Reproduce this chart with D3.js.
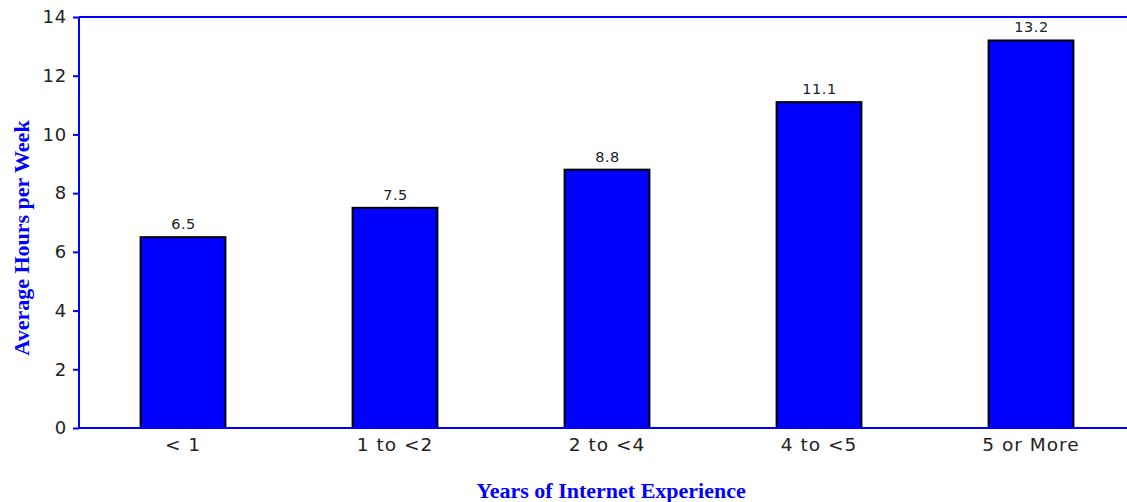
<!DOCTYPE html>
<html><head><meta charset="utf-8">
<script src="https://cdn.jsdelivr.net/npm/d3@7"></script>
<style>body{margin:0;background:#fff}</style>
</head><body>
<svg id="c" width="1127" height="502"></svg>
<script>
const categories = ["< 1", "1 to <2", "2 to <4", "4 to <5", "5 or More"];
const values = [6.5, 7.5, 8.8, 11.1, 13.2];
const valueLabels = ["6.5", "7.5", "8.8", "11.1", "13.2"];
const yTicks = [0, 2, 4, 6, 8, 10, 12, 14];

const svg = d3.select("#c");
const L = 79, T = 17, B = 428, R = 1139;
const x = d3.scaleBand().domain(categories).range([77, 1137]).paddingInner(0.6).paddingOuter(0.3);
const y = d3.scaleLinear().domain([0, 14]).range([B, T]);
const FONT = "DejaVu Sans, Verdana, sans-serif";

// bars
svg.selectAll("rect.bar").data(values).enter().append("rect")
  .attr("x", (d, i) => x(categories[i]))
  .attr("y", d => y(d))
  .attr("width", x.bandwidth())
  .attr("height", d => B - y(d))
  .attr("fill", "#0000ff").attr("stroke", "#000").attr("stroke-width", 2);

// value labels
svg.selectAll("text.val").data(values).enter().append("text")
  .attr("x", (d, i) => x(categories[i]) + x.bandwidth() / 2 + 0.5)
  .attr("y", d => y(d) - 8)
  .attr("text-anchor", "middle")
  .attr("font-family", FONT).attr("font-size", 14.5).attr("letter-spacing", 0.5)
  .attr("fill", "#222")
  .text((d, i) => valueLabels[i]);

// top border
svg.append("line").attr("x1", L).attr("x2", R).attr("y1", T).attr("y2", T)
  .attr("stroke", "#0000ff").attr("stroke-width", 2);

// y axis
const ya = svg.append("g").attr("transform", `translate(${L},0)`)
  .call(d3.axisLeft(y).tickValues(yTicks).tickSize(6).tickPadding(6).tickFormat(d3.format("d")));
ya.select(".domain").attr("stroke", "#0000ff").attr("stroke-width", 2).attr("d", `M0,${B}V${T}`);
ya.selectAll(".tick line").attr("stroke", "#0000ff").attr("stroke-width", 2);
ya.selectAll(".tick text").attr("font-family", FONT).attr("font-size", 18).attr("letter-spacing", 0.8).attr("fill", "#222");

// x axis
const xa = svg.append("g").attr("transform", `translate(0,${B})`)
  .call(d3.axisBottom(x).tickSize(0).tickPadding(10));
xa.select(".domain").attr("stroke", "#0000ff").attr("stroke-width", 2).attr("d", `M${L},0H${R}`);
xa.selectAll(".tick text").attr("font-family", FONT).attr("font-size", 18.5).attr("letter-spacing", 1)
  .attr("fill", "#222").attr("dy", "0.71em");

// titles
svg.append("text").attr("x", 611).attr("y", 498).attr("text-anchor", "middle")
  .attr("font-family", "Liberation Serif, Times New Roman, serif").attr("font-weight", "bold")
  .attr("font-size", 22).attr("fill", "#0000ff").text("Years of Internet Experience");
svg.append("text").attr("transform", "translate(29,238) rotate(-90)").attr("text-anchor", "middle")
  .attr("font-family", "Liberation Serif, Times New Roman, serif").attr("font-weight", "bold")
  .attr("font-size", 22).attr("fill", "#0000ff").text("Average Hours per Week");
</script>
</body></html>
